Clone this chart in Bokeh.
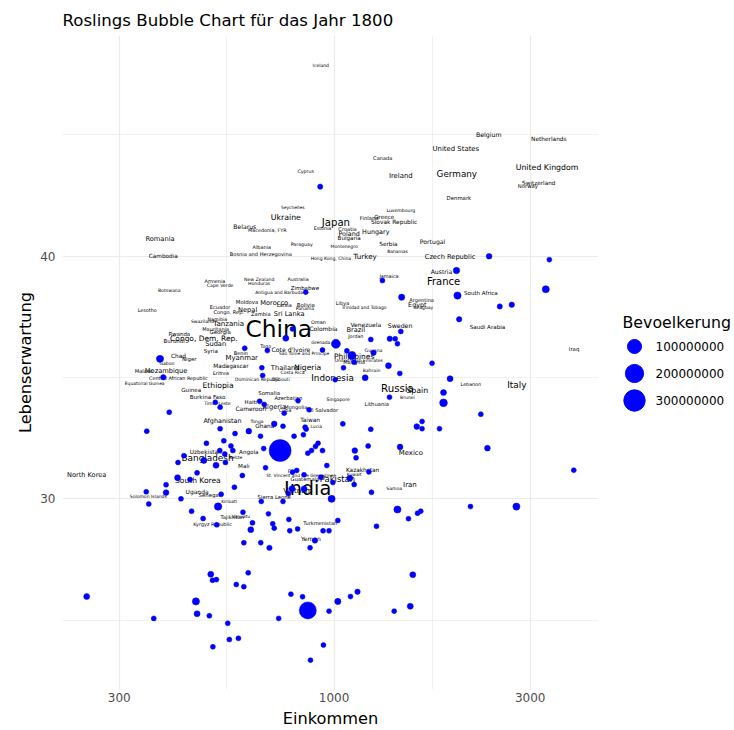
import numpy as np
from bokeh.plotting import figure
from bokeh.models import ColumnDataSource, Range1d, FixedTicker, PrintfTickFormatter
from bokeh.layouts import row
from bokeh.embed import file_html
from bokeh.resources import INLINE
from bokeh.core.properties import value

TITLE = "Roslings Bubble Chart für das Jahr 1800"
X_LABEL = "Einkommen"
Y_LABEL = "Lebenserwartung"
LEGEND_TITLE = "Bevoelkerung"

x_ticks = [300, 1000, 3000]
y_ticks = [30, 40]
legend_breaks = [100000000, 200000000, 300000000]

# ---- points: income (log x), life expectancy, population (millions)
point_income = [925, 2383, 3340, 1985, 3274, 1996, 2530, 2706, 2015, 1311,
                1460, 853, 792, 763, 1010, 606, 688, 937, 1074, 1105,
                1228, 1366, 1408, 1426, 1453, 1247, 377, 384, 514, 528,
                397, 350, 528, 574, 489, 539, 561, 567, 527, 542,
                431, 417, 482, 516, 544, 464, 416, 446, 390, 572,
                349, 390, 531, 424, 354, 522, 450, 480, 518, 501,
                506, 517, 578, 250, 461, 464, 497, 364, 551, 556,
                585, 507, 627, 715, 780, 815, 940, 972, 1268, 603,
                663, 696, 898, 874, 618, 1554, 603, 785, 838, 863,
                1021, 1096, 1140, 972, 1400, 1532, 733, 942, 876, 667,
                670, 1054, 1119, 1356, 1445, 1006, 1190, 1364, 659, 676,
                817, 756, 869, 715, 751, 850, 855, 620, 662, 799,
                842, 1050, 1228, 1589, 914, 901, 937, 881, 863, 739,
                674, 1123, 1131, 1210, 1447, 960, 681, 792, 811, 845,
                928, 993, 1092, 1119, 1215, 1233, 598, 790, 845, 774,
                986, 665, 751, 1426, 1517, 1596, 692, 776, 633, 709,
                1021, 600, 1731, 1915, 1846, 1846, 2275, 1637, 1637, 1805,
                2361, 3830, 2147, 2777, 1625]
point_lifeexp = [42.87, 40.0, 39.86, 39.41, 38.64, 38.38, 37.93, 38.0, 37.4, 39.0,
                 38.31, 38.52, 37.0, 36.62, 36.39, 36.21, 36.11, 36.14, 36.1, 35.91,
                 36.57, 36.6, 36.6, 36.39, 36.9, 36.02, 35.77, 35.01, 33.98, 33.78,
                 33.57, 32.79, 32.89, 32.69, 32.29, 32.39, 32.18, 31.99, 31.99, 31.85,
                 31.78, 31.5, 31.58, 31.38, 31.5, 31.07, 30.87, 30.8, 30.58, 30.48,
                 30.29, 30.26, 30.19, 30.0, 29.79, 29.68, 29.49, 29.19, 28.93, 26.89,
                 26.64, 26.67, 26.47, 25.97, 25.77, 25.26, 25.18, 25.07, 24.87, 24.2,
                 24.25, 23.9, 28.73, 28.79, 28.68, 28.76, 28.68, 28.68, 28.87, 28.19,
                 28.19, 27.98, 28.28, 27.98, 26.95, 26.87, 26.38, 26.07, 25.96, 25.4,
                 25.77, 25.97, 26.17, 25.37, 25.37, 25.57, 25.07, 23.97, 23.35, 35.4,
                 35.08, 35.4, 35.63, 35.49, 35.17, 34.91, 34.99, 34.19, 34.02, 33.89,
                 34.04, 33.53, 33.67, 33.09, 32.99, 32.95, 32.87, 32.79, 32.58, 32.58,
                 32.64, 33.09, 32.87, 32.98, 32.29, 32.16, 31.99, 31.99, 31.88, 31.99,
                 32.07, 31.99, 31.69, 32.18, 32.14, 31.37, 31.28, 31.1, 31.17, 30.99,
                 30.89, 30.67, 30.85, 30.59, 31.11, 30.27, 30.96, 30.42, 30.41, 30.21,
                 30.0, 29.89, 29.89, 29.56, 29.18, 29.41, 29.38, 29.15, 29.01, 28.97,
                 29.11, 29.45, 35.59, 34.95, 34.38, 33.96, 33.49, 33.19, 32.89, 32.89,
                 32.09, 31.18, 29.68, 29.68, 29.49]
point_pop_m = [1.5, 3, 1, 6, 10, 11, 1.5, 2, 2, 1,
               5, 1, 1, 4, 25, 1, 1, 1, 1, 16,
               1, 2, 1, 1, 1, 2, 10, 2, 1, 1,
               1, 1, 1, 1, 1, 1, 1, 1, 1, 1,
               1, 1, 4, 4, 1, 1, 4, 1, 1, 1,
               1, 3, 1, 1, 1, 12, 1, 1, 1, 4,
               1, 1, 1, 4, 10, 4, 1, 1, 1, 1,
               1, 1, 4, 1, 1, 1, 1, 1, 1, 1,
               1, 2, 2, 1, 1, 4, 1, 1, 1, 169,
               5, 1, 2, 1, 1, 4, 1, 1, 1, 1,
               1, 1, 1, 4, 1, 1, 4, 1, 1, 1,
               1, 1, 1, 3, 1, 1, 1, 3, 1, 1,
               1, 1, 1, 3, 1, 1, 1, 1, 1, 321,
               1, 3, 1, 1, 3, 1, 1, 1, 1, 1,
               1, 1, 4, 1, 1, 1, 1, 4, 4, 1,
               10, 1, 1, 10, 1, 1, 1, 1, 1, 1,
               1, 1, 1, 4, 4, 14, 1, 1, 1, 1,
               3, 1, 1, 10, 1]

# ---- country labels: name, income, life expectancy, population (millions)
label_country = ["Iceland", "Belgium", "Netherlands", "Canada", "United States", "Ireland", "Cyprus",
                 "Germany", "United Kingdom", "Switzerland", "Norway", "Denmark", "Seychelles",
                 "Luxembourg", "Ukraine", "Belarus", "Macedonia, FYR", "Japan", "Estonia", "Croatia",
                 "Poland", "Bulgaria", "Hungary", "Finland", "Greece", "Slovak Republic", "Albania",
                 "Paraguay", "Montenegro", "Serbia", "Bahamas", "Portugal", "Romania", "Cambodia",
                 "Bosnia and Herzegovina", "Hong Kong, China", "Turkey", "Czech Republic", "Austria",
                 "France", "South Africa", "Argentina", "Egypt", "Uruguay", "Saudi Arabia", "Iraq",
                 "Jamaica", "Armenia", "Cape Verde", "Botswana", "New Zealand", "Honduras", "Australia",
                 "Zimbabwe", "Antigua and Barbuda", "Lesotho", "Ecuador", "Congo, Rep.", "Moldova",
                 "Morocco", "Latvia", "Nepal", "Bolivia", "Panama", "Libya", "Trinidad and Tobago",
                 "Sri Lanka", "Zambia", "Oman", "Colombia", "Venezuela", "Brazil", "Sweden", "Jordan",
                 "Grenada", "Togo", "Cote d'Ivoire", "Sao Tome and Principe", "Guyana", "Philippines",
                 "Malaysia", "Namibia", "Swaziland", "Tanzania", "Mauritania", "Georgia", "Rwanda",
                 "Burundi", "Congo, Dem. Rep.", "Sudan", "Syria", "Chad", "Niger", "Benin", "Myanmar",
                 "Gabon", "Malawi", "Mozambique", "Madagascar", "Eritrea", "Central African Republic",
                 "Equatorial Guinea", "Ethiopia", "Guinea", "Burkina Faso", "Timor-Leste", "Thailand",
                 "Nigeria", "Costa Rica", "Dominican Republic", "Djibouti", "Indonesia",
                 "United Arab Emirates", "Bahrain", "Russia", "Spain", "Brunei", "Lebanon", "Italy",
                 "Somalia", "Azerbaijan", "Singapore", "Haiti", "Lithuania", "Cameroon", "Algeria",
                 "Mongolia", "Cuba", "El Salvador", "Ghana", "Taiwan", "St. Lucia", "Afghanistan",
                 "Tonga", "Angola", "Mali", "Uzbekistan", "Bangladesh", "Belize", "South Korea",
                 "North Korea", "Uganda", "Senegal", "Solomon Islands", "Kiribati", "Tajikistan",
                 "Vanuatu", "Kyrgyz Republic", "Sierra Leone", "Guatemala",
                 "St. Vincent and the Grenadines", "Pakistan", "Kazakhstan", "Kuwait", "Samoa", "Iran",
                 "Mexico", "India", "China", "Fiji", "Turkmenistan", "Yemen", "Vietnam"]
label_income = [928, 2378, 3330, 1313, 1978, 1453, 853,
                1989, 3297, 3148, 2960, 2012, 793,
                1453, 763, 606, 688, 1010, 937, 1078,
                1088, 1088, 1263, 1217, 1324, 1400, 667,
                834, 1058, 1356, 1426, 1736, 377, 384,
                663, 982, 1190, 1915, 1825,
                1846, 2275, 1633, 1594, 1651, 2361, 3836,
                1360, 513, 528, 397, 657, 657, 817,
                849, 735, 351, 528, 554, 614,
                715, 756, 616, 853, 849, 1048, 1183,
                777, 663, 916, 942, 1194, 1129, 1447, 1129,
                928, 682, 785, 845, 1247, 1119,
                1119, 520, 478, 554, 515, 528, 420,
                408, 482, 515, 501, 418, 444, 593, 596,
                392, 344, 390, 561, 530, 418,
                346, 522, 449, 492, 520, 760,
                862, 792, 651, 742, 991,
                1148, 1233, 1426, 1594, 1508, 2151, 2783,
                695, 774, 1023, 627, 1270, 627, 715,
                807, 760, 942, 678, 874, 886, 535,
                649, 620, 603, 487, 492, 576, 466,
                250, 464, 497, 353, 555, 565,
                593, 506, 715, 849,
                830, 1019, 1173, 1119, 1400, 1529,
                1537, 862, 733, 785, 925, 878, 816]
label_lifeexp = [47.86, 45.02, 44.85, 44.03, 44.44, 43.29, 43.49,
                 43.37, 43.66, 43.0, 42.91, 42.42, 42.01,
                 41.88, 41.6, 41.22, 41.09, 41.4, 41.13, 41.11,
                 40.92, 40.76, 40.99, 41.58, 41.6, 41.4, 40.4,
                 40.48, 40.4, 40.51, 40.18, 40.61, 40.7, 40.0,
                 40.08, 39.92, 39.99, 39.95, 39.38,
                 38.94, 38.49, 38.2, 38.01, 37.9, 37.09, 36.18,
                 39.2, 39.0, 38.79, 38.59, 39.05, 38.89, 39.05,
                 38.7, 38.52, 37.79, 37.9, 37.69, 38.13,
                 38.08, 38.0, 37.8, 38.01, 37.86, 38.08, 37.9,
                 37.61, 37.63, 37.28, 37.01, 37.18, 36.97, 37.16, 36.7,
                 36.46, 36.29, 36.15, 35.99, 36.13, 35.88,
                 35.63, 37.39, 37.31, 37.21, 37.01, 36.87, 36.8,
                 36.5, 36.6, 36.39, 36.08, 35.9, 35.77, 36.03, 35.82,
                 35.59, 35.29, 35.26, 35.49, 35.19, 34.99,
                 34.77, 34.67, 34.48, 34.19, 33.94, 35.4,
                 35.4, 35.19, 34.91, 34.91, 34.99,
                 35.7, 35.29, 34.56, 34.46, 34.19, 34.7, 34.68,
                 34.37, 34.15, 34.09, 34.0, 33.89, 33.73, 33.78,
                 33.78, 33.67, 33.68, 32.99, 33.27, 32.99, 33.19,
                 33.19, 31.95, 31.37, 31.92, 31.67, 31.71, 30.77,
                 30.97, 30.29, 30.16, 30.08, 29.89, 29.24,
                 29.27, 28.98, 30.09, 30.8,
                 30.97, 30.8, 31.2, 30.99, 30.41, 30.58,
                 31.88, 30.41, 37.02, 31.14, 28.99, 28.35, 30.34]
label_pop_m = [0.06, 3.3, 2.1, 0.5, 6, 6, 0.15,
               18, 11, 1.8, 0.9, 1, 0.02,
               0.1, 11, 3, 0.3, 30, 0.2, 0.6,
               4, 1.5, 4, 0.8, 1.5, 2.2, 0.4,
               0.15, 0.05, 1.9, 0.02, 3, 5, 1.8,
               0.6, 0.05, 7, 5, 3,
               29, 1.4, 0.5, 4, 0.05, 1.5, 1,
               0.3, 0.4, 0.1, 0.1, 0.1, 0.1, 0.2,
               1.1, 0.04, 0.3, 0.5, 0.5, 1,
               5, 0.4, 5, 1.1, 0.1, 0.5, 0.03,
               5, 0.7, 0.3, 2.5, 2.5, 5, 3.5, 0.2,
               0.03, 0.2, 3, 0.02, 0.1, 9,
               0.5, 0.2, 0.05, 7, 0.5, 1.1, 1.1,
               1.1, 9, 5, 1.5, 2, 1, 0.5, 6,
               0.05, 0.7, 5, 2, 0.3, 0.3,
               0.02, 10, 1.5, 1.5, 0.05, 5,
               10, 0.05, 0.05, 0.05, 18,
               0.04, 0.06, 31, 11, 0.04, 0.2, 19,
               1.1, 0.9, 0.1, 1, 0.8, 2.5, 5,
               0.6, 0.3, 0.8, 2, 2, 0.03, 4,
               0.02, 1.6, 1.6, 2, 19, 0.02, 9.4,
               4.7, 2.5, 1, 0.05, 0.02, 0.6,
               0.02, 0.3, 0.9, 0.7,
               0.02, 15, 2, 0.02, 0.05, 6.5,
               6, 200, 321, 0.15, 0.5, 2.6, 6.5]

FONT = "DejaVu Sans"
POP_MAX = 321e6


def point_diameter(pop):
    return 4.0 + 18.0 * np.sqrt(np.asarray(pop, dtype=float) / POP_MAX)


def label_font_px(pop_m):
    return 4.3 + 1.06 * np.sqrt(np.asarray(pop_m, dtype=float))


pt_src = ColumnDataSource(dict(
    x=point_income, y=point_lifeexp,
    size=point_diameter(np.array(point_pop_m) * 1e6)))
lab_src = ColumnDataSource(dict(
    x=label_income, y=label_lifeexp, text=label_country,
    fs=["%.2fpx" % f for f in label_font_px(label_pop_m)]))

MAIN_W, FIG_H = 600, 730
B_LEFT, B_RIGHT, B_TOP, B_BOTTOM = 62, 2, 35, 41
p = figure(width=MAIN_W, height=FIG_H, x_axis_type="log",
           x_range=Range1d(218.3, 4399), y_range=Range1d(22.14, 49.10),
           output_backend="svg", toolbar_location=None,
           min_border_left=B_LEFT, min_border_right=B_RIGHT,
           min_border_top=B_TOP, min_border_bottom=B_BOTTOM,
           title=TITLE)
p.title.text_font = FONT
p.title.text_font_size = "16.6px"
p.title.text_font_style = "normal"
p.title.text_color = "black"
p.title.standoff = 12
p.title.offset = 0

p.outline_line_color = None
p.background_fill_color = "white"

p.xaxis.ticker = FixedTicker(ticks=x_ticks,
                             minor_ticks=[float(np.sqrt(a * b)) for a, b in zip(x_ticks[:-1], x_ticks[1:])])
p.xaxis.formatter = PrintfTickFormatter(format="%d")
y_minor = sorted(set([t - 5 for t in y_ticks] + [t + 5 for t in y_ticks]))
p.yaxis.ticker = FixedTicker(ticks=y_ticks, minor_ticks=y_minor)

for ax in (p.xaxis[0], p.yaxis[0]):
    ax.axis_line_color = None
    ax.major_tick_line_color = None
    ax.minor_tick_line_color = None
    ax.major_tick_out = 0
    ax.major_tick_in = 0
    ax.minor_tick_out = 0
    ax.minor_tick_in = 0
    ax.major_label_text_color = "#4D4D4D"
    ax.major_label_text_font = FONT
    ax.major_label_text_font_size = "12px"
    ax.axis_label_text_font = FONT
    ax.axis_label_text_font_size = "16.2px"
    ax.axis_label_text_font_style = "normal"
    ax.axis_label_text_color = "black"
p.xaxis.axis_label = X_LABEL
p.yaxis.axis_label = Y_LABEL
p.xaxis.major_label_standoff = 3
p.xaxis.axis_label_standoff = 4
p.yaxis.major_label_standoff = 7
p.yaxis.axis_label_standoff = 2

for g in (p.xgrid[0], p.ygrid[0]):
    g.grid_line_color = "#EBEBEB"
    g.grid_line_width = 1.2
    g.minor_grid_line_color = "#EBEBEB"
    g.minor_grid_line_width = 0.7

p.text(x="x", y="y", text="text", source=lab_src, text_font=value(FONT),
       text_font_size="fs", text_align="center", text_baseline="middle",
       text_color="black")
p.scatter(x="x", y="y", size="size", source=pt_src, marker="circle",
          fill_color="blue", line_color="blue", line_width=0.5)

# ---- legend as a separate small figure to the right of the plot,
# its ranges expressed in page pixels of the plotting frame
LEG_W = 134
frame_top, frame_bottom = B_TOP, FIG_H - B_BOTTOM
leg = figure(width=LEG_W, height=FIG_H,
             x_range=Range1d(MAIN_W, MAIN_W + LEG_W), y_range=Range1d(frame_bottom, frame_top),
             output_backend="svg", toolbar_location=None,
             min_border_left=0, min_border_right=0,
             min_border_top=B_TOP, min_border_bottom=B_BOTTOM,
             x_axis_location=None, y_axis_location=None)
leg.grid.visible = False
leg.outline_line_color = None
key_x, lab_x, title_x, first_y, step = 634, 655, 622, 346, 27
key_y = [first_y + i * step for i in range(len(legend_breaks))]
leg.text(x=[title_x], y=[first_y - 24], text=[LEGEND_TITLE], text_font=value(FONT),
         text_font_size="15.8px", text_align="left", text_baseline="middle", text_color="black")
leg.scatter(x=[key_x] * len(legend_breaks), y=key_y, size=point_diameter(legend_breaks),
            marker="circle", fill_color="blue", line_color="blue")
leg.text(x=[lab_x] * len(legend_breaks), y=key_y, text=[str(b) for b in legend_breaks],
         text_font=value(FONT), text_font_size="12px", text_align="left",
         text_baseline="middle", text_color="black")

layout = row(p, leg)
open("out.html", "w").write(file_html(layout, INLINE))
